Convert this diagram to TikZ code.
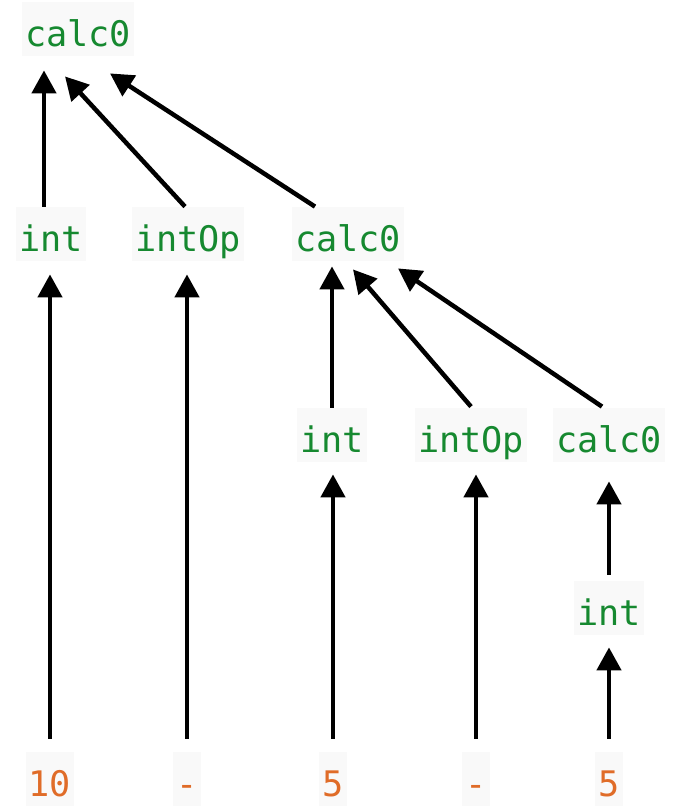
\documentclass[tikz,border=0pt]{standalone}
\usepackage{fontspec}
\usepackage{xcolor}
\usetikzlibrary{arrows.meta}
\newfontfamily\codefont{DejaVu Sans Mono}
\definecolor{rulegreen}{RGB}{22,137,48}
\definecolor{tokorange}{RGB}{224,108,40}
\definecolor{chipgray}{RGB}{249,249,249}

\begin{document}
\begin{tikzpicture}[x=0.5pt, y=-0.5pt,
    sym/.style={fill=chipgray, text=rulegreen, font=\codefont\fontsize{17.6}{20}\selectfont,
      inner xsep=1.5pt, inner ysep=2pt, text height=20pt, text depth=3pt},
    tok/.style={sym, text=tokorange},
    link/.style={-{Triangle[length=11.5pt,width=12pt]}, line width=2.25pt}]
		\useasboundingbox (0,0) rectangle (688,810);
		% root
		\node[sym] (top) at (78,29) {calc0};
		% second row
		\node[sym] (int1) at (51,234) {int};
		\node[sym] (op1) at (188,234) {intOp};
		\node[sym] (calc1) at (348,234) {calc0};
		% third row
		\node[sym] (int2) at (332,435) {int};
		\node[sym] (op2) at (471,435) {intOp};
		\node[sym] (calc2) at (609,435) {calc0};
		\node[sym] (int3) at (609,608) {int};
		% tokens
		\node[tok] (n1) at (50,779) {10};
		\node[tok] (m1) at (187,779) {-};
		\node[tok] (n2) at (333,779) {5};
		\node[tok] (m2) at (476,779) {-};
		\node[tok] (n3) at (609,779) {5};
		% tokens up
		\draw[link, shorten <=6.5pt, shorten >=6.5pt] (n1.north) -- (n1.north |- int1.south);
		\draw[link, shorten <=6.5pt, shorten >=6.5pt] (m1.north) -- (m1.north |- op1.south);
		\draw[link, shorten <=6.5pt, shorten >=6pt] (n2.north) -- (n2.north |- int2.south);
		\draw[link, shorten <=6.5pt, shorten >=6pt] (m2.north) -- (m2.north |- op2.south);
		\draw[link, shorten <=6.5pt, shorten >=6pt] (n3.north) -- (n3.north |- int3.south);
		% inner calc0
		\draw[link, shorten <=3pt, shorten >=9.5pt] (int3.north) -- (int3.north |- calc2.south);
		\draw[link, shorten >=2.5pt] (int2.north) -- (int2.north |- calc1.south);
		\draw[link] ([yshift=0.5pt]op2.north) -- ([xshift=2.5pt,yshift=-4pt]calc1.south);
		\draw[link] ([xshift=-3.5pt,yshift=0.5pt]calc2.north) -- ([xshift=25pt,yshift=-3.5pt]calc1.south);
		% root
		\draw[link] ([xshift=-3.5pt]int1.north) -- ([xshift=-17pt,yshift=-7pt]top.south);
		\draw[link] ([xshift=-1.5pt]op1.north) -- ([xshift=-6.5pt,yshift=-10pt]top.south);
		\draw[link] ([xshift=-16.5pt]calc1.north) -- ([xshift=16pt,yshift=-8.5pt]top.south);
	\end{tikzpicture}
\end{document}
